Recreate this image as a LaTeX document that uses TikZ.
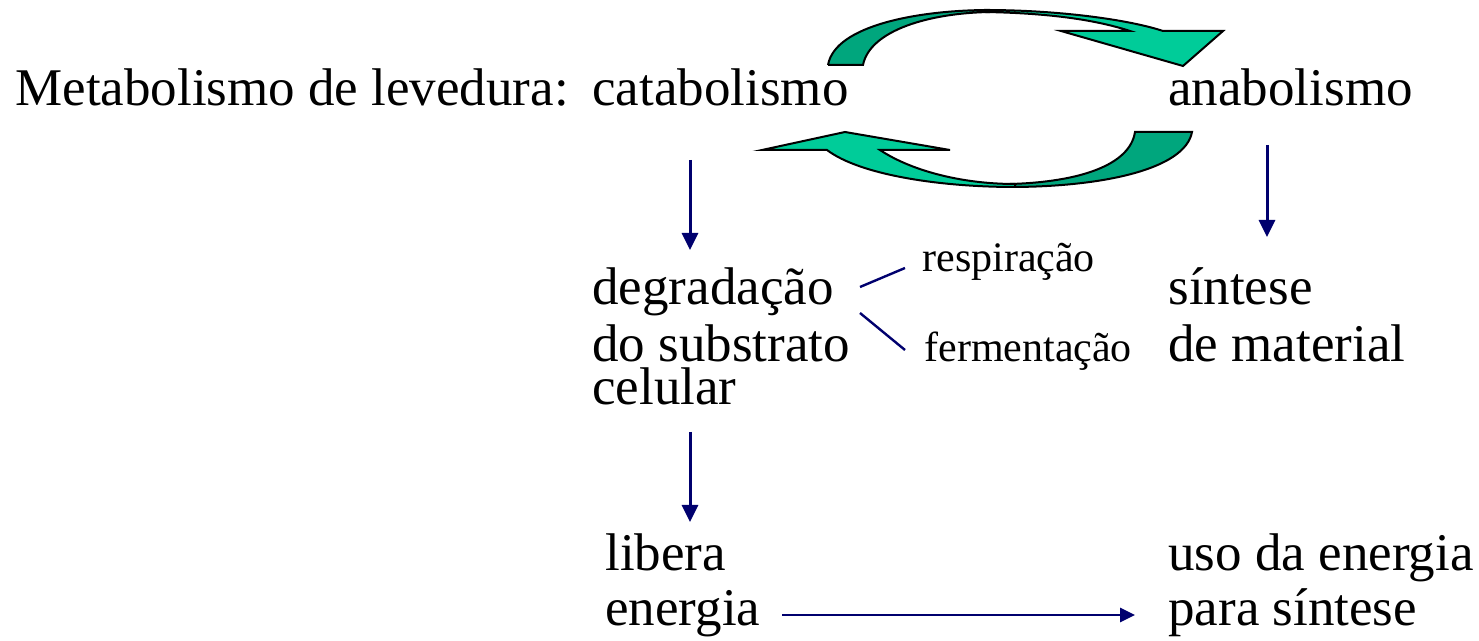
\documentclass[tikz,border=0pt]{standalone}
\usepackage{fontspec}
\setmainfont{Liberation Serif}
\usetikzlibrary{arrows.meta,calc}
\definecolor{navyarr}{RGB}{0,0,110}
\definecolor{tealL}{RGB}{0,204,153}
\definecolor{tealD}{RGB}{0,166,125}
\begin{document}
\begin{tikzpicture}[x=0.5pt,y=-0.5pt,
  big/.style={font=\fontsize{26.5}{28.5}\selectfont, inner sep=0pt, anchor=base west, align=left},
  small/.style={font=\fontsize{21}{24}\selectfont, inner sep=0pt, anchor=base west},
  varrow/.style={draw=navyarr, line width=1.5pt, -{Triangle[length=8.5pt,width=8pt]}},
  harrow/.style={draw=navyarr, line width=1.3pt, -{Triangle[length=7.5pt,width=7pt]}},
  branch/.style={draw=navyarr, line width=1.2pt},
  ribbon/.style={draw=black, line width=1pt, line join=miter}]
\useasboundingbox (0,0) rectangle (1479,641);
% texts (multi-line nodes are anchored at the baseline of their last line)
\node[big] (meta) at (15,106) {Metabolismo de levedura:};
\node[big] (cat) at (592,106) {catabolismo};
\node[big] (ana) at (1168,106) {anabolismo};
\node[big] (deg) at (592,405) {degradação\\do substrato\\[-7pt]celular};
\node[big] (sin) at (1168,362) {síntese\\de material};
\node[small] (resp) at (922,272) {respiração};
\node[small] (ferm) at (924,362) {fermentação};
\node[big] (lib) at (605,625) {libera\\[-1pt]energia};
\node[big] (uso) at (1168,625) {uso da energia\\[-1pt]para síntese};
% cycle ribbons
\fill[tealD] (828,65) .. controls (835,25) and (920,10) .. (990,10)
  -- (990,12) .. controls (930,13) and (870,30) .. (863,65) -- cycle;
\draw[ribbon] (828,65) .. controls (835,25) and (920,10) .. (990,10)
  (990,12) .. controls (930,13) and (870,30) .. (863,65) -- (828,65);
\draw[ribbon, fill=tealL] (985,10) .. controls (1060,10) and (1130,20) .. (1163,31)
  -- (1223,31) -- (1183,66) -- (1061,31) -- (1130,31)
  .. controls (1090,18) and (1040,13) .. (985,12) -- cycle;
\draw[ribbon, fill=tealD] (1192,132) .. controls (1185,170) and (1100,187) .. (1010,187)
  -- (1010,184) .. controls (1080,182) and (1130,165) .. (1135,132) -- cycle;
\draw[ribbon, fill=tealL] (1015,187) .. controls (940,187) and (860,175) .. (827,150)
  -- (762,150) -- (845,132) -- (950,150) -- (880,150)
  .. controls (910,170) and (960,184) .. (1015,184) -- cycle;
% connectors
\draw[varrow] ($(cat.base west)+(98,54)$) -- ($(deg.base west)+(98,-155)$);
\draw[varrow] ($(ana.base west)+(99,39)$) -- ($(sin.base west)+(99,-125)$);
\draw[varrow] ($(deg.base west)+(98,27)$) -- ($(lib.base west)+(85,-103)$);
\draw[harrow] ($(lib.base west)+(177,-10)$) -- ($(uso.base west)+(-33,-10)$);
\draw[branch] ($(deg.base west)+(268,-118)$) -- ($(resp.base west)+(-17,-4)$);
\draw[branch] ($(deg.base west)+(268,-92)$) -- ($(ferm.base west)+(-19,-12)$);
\end{tikzpicture}
\end{document}
